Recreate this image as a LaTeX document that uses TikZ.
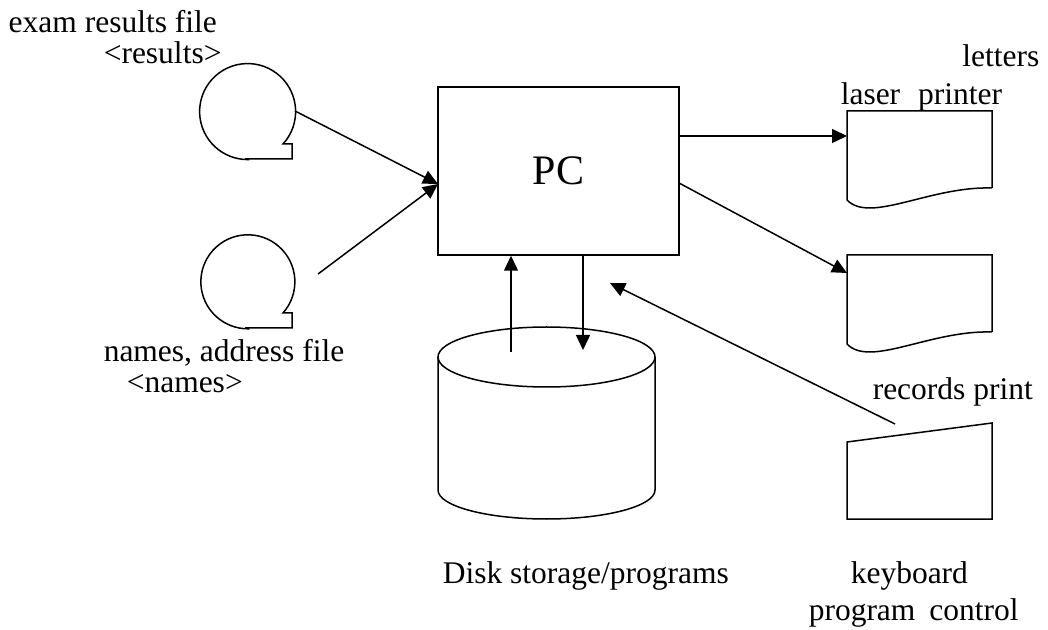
\documentclass[tikz,border=0pt]{standalone}
\usepackage{fontspec}
\setmainfont{Liberation Serif}
\usetikzlibrary{arrows.meta,calc}
\begin{document}
\begin{tikzpicture}[x=1pt,y=1pt,
  line width=1.5pt, line join=miter,
  conn/.style={-{Triangle[length=15pt,width=14pt]}},
  lbl/.style={inner sep=0pt, font=\fontsize{31.5}{36}\selectfont},
  hold/.style={inner sep=0pt, outer sep=0pt},
]
\useasboundingbox (0,0) rectangle (1048,629);
% PC
\node[draw, minimum width=241pt, minimum height=168pt, inner sep=0pt, font=\fontsize{42}{48}\selectfont] (pc) at (558.5,458) {PC};
% tapes
\node[hold, circle, minimum size=96pt] (t1) at (247,518) {};
\draw (t1.south) -- ++(45,0) -- ++(0,15) -- ++(-9,0) arc[start angle=-42.5, end angle=270, radius=48pt] -- cycle;
\node[hold, circle, minimum size=94pt] (t2) at (247,348) {};
\draw (t2.south) -- ++(45,0) -- ++(0,15) -- ++(-9,0) arc[start angle=-41.6, end angle=270, radius=47pt] -- cycle;
% documents
\node[hold, minimum width=145pt, minimum height=77pt] (d1) at (919.5,479.5) {};
\draw (d1.south east) -- (d1.north east) -- (d1.north west) -- (847,429)
  .. controls (870,405) and (930,443) .. (d1.south east);
\node[hold, minimum width=145pt, minimum height=77pt] (d2) at (919.5,335.5) {};
\draw (d2.south east) -- (d2.north east) -- (d2.north west) -- (847,285)
  .. controls (870,261) and (930,299) .. (d2.south east);
% keyboard
\node[hold, minimum width=145pt, minimum height=77pt] (kb) at (919.5,148) {};
\draw (847,187) -- (992,206) -- (kb.south east |- 0,110) -- (kb.south west |- 0,110) -- cycle;
% disk
\node[hold, minimum width=217pt, minimum height=163pt] (disk) at (546.5,220) {};
\draw (546.5,272) ellipse [x radius=108.5pt, y radius=30pt];
\draw (438,272) -- (438,139) arc[start angle=180, end angle=360, x radius=108.5pt, y radius=29pt] -- (655,272);
% connector ends
\coordinate (pcin) at (438,445);
\coordinate (t2out) at (318,355);
\coordinate (d1in) at (847,493);
\coordinate (pcout2) at (679,446);
\coordinate (d2in) at (847,356);
\coordinate (kout) at (895,205);
\coordinate (pcin2) at (610,346);
\coordinate (dup) at (511,277);
\coordinate (ddown) at (583,279);
% connectors
\draw[conn] (t1.east) -- (pcin);
\draw[conn] (t2out) -- (pcin);
\draw[conn] (pc.east |- d1in) -- (d1in);
\draw[conn] (pcout2) -- (d2in);
\draw[conn] (kout) -- (pcin2);
\draw[conn] (dup) -- (dup |- pc.south);
\draw[conn] (ddown |- pc.south) -- (ddown);
% labels
\node[lbl, anchor=base west] (l1) at (8,596) {exam results file};
\node[lbl, anchor=base west] (l2) at (103,565) {<results>};
\node[lbl, anchor=base east] (l3) at (1040,562) {letters};
\node[lbl, anchor=base west] (l4) at (840,524) {laser\hspace{18pt}printer};
\node[lbl, anchor=base west] (l5) at (103,267) {names, address file};
\node[lbl, anchor=base west] (l6) at (126,236) {<names>};
\node[lbl, anchor=base west] (l7) at (872,229) {records print};
\node[lbl, anchor=base west] (l8) at (442,46) {Disk storage/programs};
\node[lbl, anchor=base west] (l9) at (850,46) {keyboard};
\node[lbl, anchor=base west] (l10) at (808,9) {program\hspace{14pt}control};
\end{tikzpicture}
\end{document}
